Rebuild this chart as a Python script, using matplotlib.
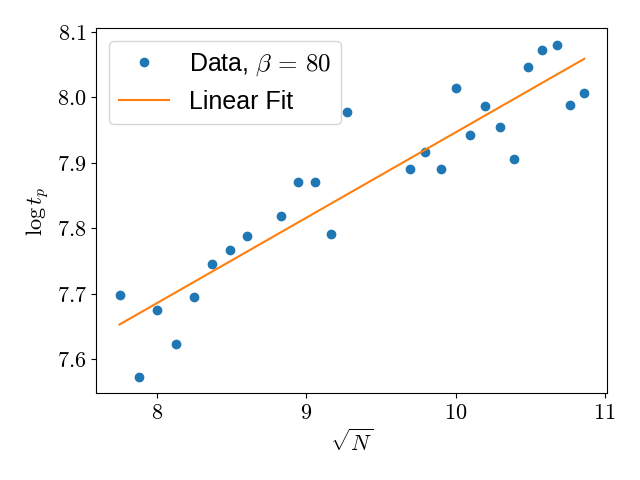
import matplotlib
matplotlib.use('Agg')
import matplotlib.pyplot as plt
import numpy as np
from matplotlib.ticker import FormatStrFormatter, MultipleLocator

plt.rcParams['mathtext.fontset'] = 'cm'
plt.rcParams['font.family'] = ['Liberation Sans', 'DejaVu Sans']
plt.rcParams['font.size'] = 16

# Dane: sqrt(N) i log t_p
sqrt_n = [7.746, 7.874, 8.000, 8.124, 8.246, 8.367, 8.485, 8.602, 8.832,
          8.944, 9.055, 9.165, 9.274, 9.695, 9.798, 9.899, 10.000, 10.100,
          10.198, 10.296, 10.392, 10.488, 10.583, 10.677, 10.770, 10.863]
log_tp = [7.698, 7.573, 7.675, 7.623, 7.695, 7.746, 7.766, 7.788, 7.818,
          7.870, 7.870, 7.791, 7.977, 7.890, 7.916, 7.891, 8.014, 7.942,
          7.987, 7.955, 7.906, 8.047, 8.073, 8.080, 7.988, 8.006]

x = np.array(sqrt_n)
y = np.array(log_tp)
a, b = np.polyfit(x, y, 1)

fig, ax = plt.subplots(figsize=(6.4, 4.8))
ax.plot(x, y, 'o', color='#1f77b4', label=r'Data, $\beta \,=\, 80$')
ax.plot(x, a * x + b, '-', color='#ff7f0e', label='Linear Fit')

ax.set_xlabel(r'$\sqrt{N}$')
ax.set_ylabel(r'$\log t_p$')
ax.xaxis.set_major_locator(MultipleLocator(1))
ax.yaxis.set_major_locator(MultipleLocator(0.1))
ax.xaxis.set_major_formatter(FormatStrFormatter('$%d$'))
ax.yaxis.set_major_formatter(FormatStrFormatter('$%.1f$'))
ax.legend(loc='upper left', fontsize=18)

plt.tight_layout()
plt.savefig('out.png', dpi=100)
